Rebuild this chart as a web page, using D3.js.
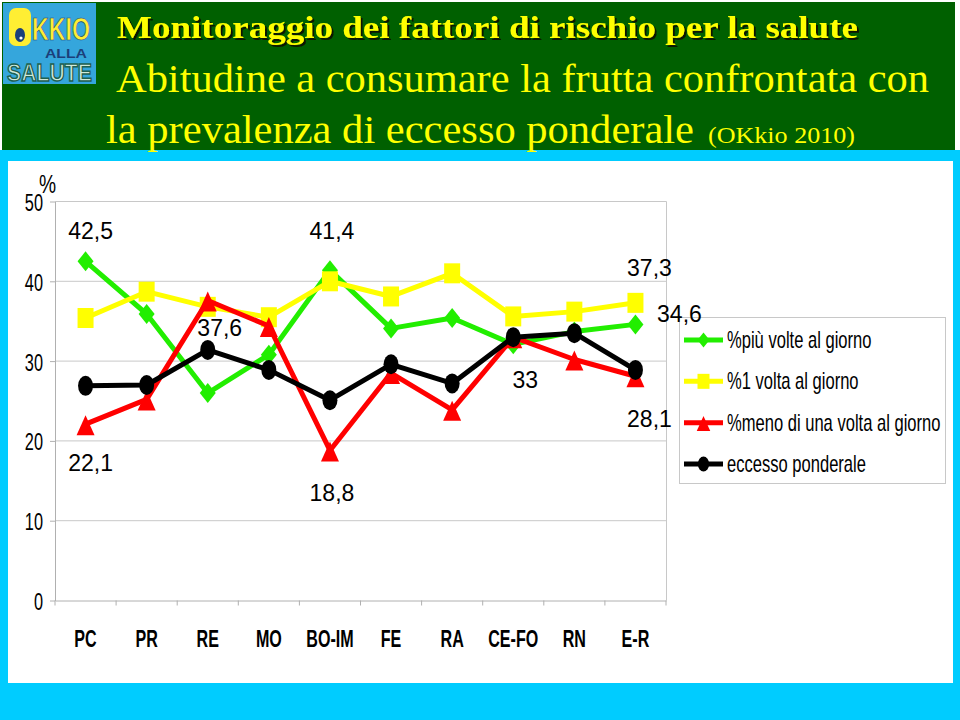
<!DOCTYPE html>
<html>
<head>
<meta charset="utf-8">
<script src="https://cdn.jsdelivr.net/npm/d3@7"></script>
<style>
  html, body { margin: 0; padding: 0; background: #ffffff; }
  svg { display: block; }
</style>
</head>
<body>
<svg id="chart" width="960" height="720"></svg>
<script>
// ---------------- DATA ----------------
const categories = ["PC", "PR", "RE", "MO", "BO-IM", "FE", "RA", "CE-FO", "RN", "E-R"];
const piuVolte   = [42.5, 35.9, 26.0, 30.8, 41.4, 34.1, 35.4, 32.1, 33.7, 34.6];
const unaVolta   = [35.4, 38.7, 36.8, 35.5, 40.0, 38.1, 41.0, 35.6, 36.2, 37.3];
const menoUna    = [22.1, 25.2, 37.6, 34.4, 18.8, 28.5, 23.9, 33.0, 30.2, 28.1];
const eccesso    = [26.9, 27.0, 31.4, 28.9, 25.1, 29.6, 27.2, 33.0, 33.5, 28.9];
const seriesNames = ["%più volte al giorno", "%1 volta al giorno", "%meno di una volta al giorno", "eccesso ponderale"];
const yTicks = [0, 10, 20, 30, 40, 50];
// labelled points: [series index, category index]
const labelledPoints = [[0, 0], [0, 4], [1, 9], [0, 9], [2, 9], [2, 2], [3, 7], [2, 0], [2, 4]];
const titleLine1 = "Monitoraggio dei fattori di rischio per la salute";
const titleLine2 = "Abitudine a consumare la frutta confrontata con";
const titleLine3 = "la prevalenza di eccesso ponderale";
const titleLine3b = "(OKkio 2010)";

// ---------------- STYLES / LAYOUT ----------------
const seriesValues = [piuVolte, unaVolta, menoUna, eccesso];
const seriesColors = ["#22ee00", "#ffff00", "#ff0000", "#000000"];
const seriesMarkers = ["diamond", "square", "triangle", "circle"];
// label offsets (px) relative to the labelled point: [dx, dy(baseline)]
const labelOffsets = [[5, -22], [2, -31], [14, -27], [44, -2], [14, 51], [12, 36], [12, 51], [5, 47], [2, 51]];

const svg = d3.select("#chart");
const SX = 0.74; // horizontal squeeze of the narrow sans text
const sans = "Liberation Sans, Arial, sans-serif";

const defs = svg.append("defs");
const f = defs.append("filter").attr("id", "shadow").attr("x", "-5%").attr("y", "-20%").attr("width", "110%").attr("height", "150%");
f.append("feDropShadow").attr("dx", 2).attr("dy", 2).attr("stdDeviation", 0.6).attr("flood-color", "#111100").attr("flood-opacity", 0.9);

// background panels
svg.append("rect").attr("x", 0).attr("y", 0).attr("width", 960).attr("height", 720).attr("fill", "#00ccff");
svg.append("rect").attr("x", 0).attr("y", 0).attr("width", 960).attr("height", 150).attr("fill", "#ffffff");
svg.append("rect").attr("x", 2).attr("y", 2).attr("width", 953).attr("height", 148).attr("fill", "#006000");
svg.append("rect").attr("x", 8).attr("y", 161).attr("width", 945).attr("height", 522).attr("fill", "#ffffff");

// logo (approximation)
const logo = svg.append("g");
logo.append("rect").attr("x", 3).attr("y", 3).attr("width", 93).attr("height", 81).attr("fill", "#35a6dc");
logo.append("rect").attr("x", 9).attr("y", 8).attr("width", 22).attr("height", 38).attr("rx", 7).attr("fill", "#ffee33");
logo.append("ellipse").attr("cx", 20).attr("cy", 35).attr("rx", 5).attr("ry", 7).attr("fill", "#1b3f7a");
logo.append("circle").attr("cx", 21).attr("cy", 38).attr("r", 1.6).attr("fill", "#ffffff");
logo.append("text").attr("x", 32).attr("y", 40).attr("font-family", sans)
  .attr("font-weight", "bold").attr("font-size", 32).attr("fill", "#ffee33").attr("stroke", "#1b3f7a").attr("stroke-width", 0.6)
  .attr("textLength", 58).attr("lengthAdjust", "spacingAndGlyphs").text("KKIO");
logo.append("text").attr("x", 45).attr("y", 58).attr("font-family", sans)
  .attr("font-weight", "bold").attr("font-size", 12).attr("fill", "#1b3f7a")
  .attr("textLength", 42).attr("lengthAdjust", "spacingAndGlyphs").text("ALLA");
logo.append("text").attr("x", 7).attr("y", 81).attr("font-family", sans)
  .attr("font-weight", "bold").attr("font-size", 23).attr("fill", "#cfeadb").attr("stroke", "#1f6050").attr("stroke-width", 1.4)
  .attr("textLength", 85).attr("lengthAdjust", "spacingAndGlyphs").text("SALUTE");

// titles
const serif = "Liberation Serif, 'Times New Roman', serif";
svg.append("text").attr("x", 117).attr("y", 38).attr("font-family", serif).attr("font-weight", "bold")
  .attr("font-size", 31).attr("fill", "#ffff00").attr("filter", "url(#shadow)")
  .attr("textLength", 741).attr("lengthAdjust", "spacingAndGlyphs").text(titleLine1);
svg.append("text").attr("x", 116).attr("y", 92).attr("font-family", serif)
  .attr("font-size", 41).attr("fill", "#ffff00").attr("textLength", 813).attr("lengthAdjust", "spacingAndGlyphs").text(titleLine2);
svg.append("text").attr("x", 106).attr("y", 143).attr("font-family", serif)
  .attr("font-size", 41).attr("fill", "#ffff00").attr("textLength", 588).attr("lengthAdjust", "spacingAndGlyphs").text(titleLine3);
svg.append("text").attr("x", 708).attr("y", 143).attr("font-family", serif)
  .attr("font-size", 24).attr("fill", "#ffff00").attr("textLength", 147).attr("lengthAdjust", "spacingAndGlyphs").text(titleLine3b);

// ---------------- SCALES ----------------
const x = d3.scaleBand().domain(categories).range([55, 666]);
const y = d3.scaleLinear().domain([0, 50]).range([600.5, 201.5]);
const cx = c => x(c) + x.bandwidth() / 2;

const plot = svg.append("g");
// gridlines
plot.selectAll("line.grid").data(yTicks.filter(t => t > 0)).join("line")
  .attr("x1", 55).attr("x2", 666.5).attr("y1", d => y(d)).attr("y2", d => y(d))
  .attr("stroke", "#c8c8c8").attr("stroke-width", 1);
// right border
plot.append("line").attr("x1", 666.5).attr("x2", 666.5).attr("y1", y(50)).attr("y2", y(0))
  .attr("stroke", "#c8c8c8").attr("stroke-width", 1);

// y axis
const yAxis = plot.append("g").attr("transform", "translate(55,0)")
  .call(d3.axisLeft(y).tickValues(yTicks).tickSize(5).tickSizeOuter(0));
yAxis.select(".domain").attr("stroke", "#b0b0b0");
yAxis.selectAll(".tick line").attr("stroke", "#b0b0b0");
yAxis.selectAll(".tick text")
  .attr("x", 0).attr("dy", null).attr("y", 0)
  .attr("transform", "translate(-12,9) scale(0.68,1)")
  .attr("font-family", sans).attr("font-size", 24).attr("fill", "#000")
  .attr("text-anchor", "end");
svg.append("text").attr("transform", "translate(39,193) scale(0.74,1)")
  .attr("font-family", sans).attr("font-size", 26).attr("fill", "#000").text("%");

// x axis
const xAxis = plot.append("g").attr("transform", "translate(0," + y(0) + ")")
  .call(d3.axisBottom(x).tickSize(0).tickSizeOuter(0));
xAxis.select(".domain").attr("stroke", "#b0b0b0");
xAxis.selectAll(".tick text")
  .attr("y", 0).attr("dy", null)
  .attr("transform", "translate(0,46) scale(0.7,1)")
  .attr("font-family", sans).attr("font-weight", "bold")
  .attr("font-size", 23).attr("fill", "#000");
const bounds = categories.map(c => x(c)).concat([x(categories[categories.length - 1]) + x.bandwidth()]);
plot.selectAll("line.xt").data(bounds).join("line")
  .attr("x1", d => d).attr("x2", d => d).attr("y1", y(0)).attr("y2", y(0) + 5)
  .attr("stroke", "#b0b0b0");

// ---------------- MARKERS ----------------
function markerPath(type, s) {
  if (type === "diamond") { const w = 8 * s, h = 10 * s; return `M0,${-h}L${w},0L0,${h}L${-w},0Z`; }
  if (type === "square") { const w = 8 * s, h = 10 * s; return `M${-w},${-h}H${w}V${h}H${-w}Z`; }
  if (type === "triangle") { const w = 9 * s; return `M0,${-9 * s}L${w},${11 * s}L${-w},${11 * s}Z`; }
  const rx = 7.5 * s, ry = 10 * s;
  return `M${-rx},0A${rx},${ry} 0 1,0 ${rx},0A${rx},${ry} 0 1,0 ${-rx},0Z`;
}

const line = d3.line().x((d, i) => cx(categories[i])).y(d => y(d));
seriesValues.forEach((vals, si) => {
  const g = plot.append("g");
  g.append("path").datum(vals).attr("d", line).attr("fill", "none")
    .attr("stroke", seriesColors[si]).attr("stroke-width", 5).attr("stroke-linejoin", "round");
  g.selectAll("path.m").data(vals).join("path").attr("class", "m")
    .attr("transform", (d, i) => `translate(${cx(categories[i])},${y(d)})`)
    .attr("d", markerPath(seriesMarkers[si], 1)).attr("fill", seriesColors[si]);
});

// ---------------- LEGEND ----------------
const legend = svg.append("g");
legend.append("rect").attr("x", 679.5).attr("y", 317.5).attr("width", 266).attr("height", 166)
  .attr("fill", "#ffffff").attr("stroke", "#c8c8c8");
const rowY = d3.scalePoint().domain(seriesNames).range([340, 464]);
seriesNames.forEach((name, si) => {
  const ly = rowY(name);
  legend.append("line").attr("x1", 684).attr("x2", 723).attr("y1", ly).attr("y2", ly)
    .attr("stroke", seriesColors[si]).attr("stroke-width", 5);
  legend.append("path").attr("transform", `translate(703.5,${ly})`)
    .attr("d", markerPath(seriesMarkers[si], 0.75)).attr("fill", seriesColors[si]);
  legend.append("text").attr("transform", `translate(727,${ly + 8}) scale(0.72,1)`)
    .attr("font-family", sans).attr("font-size", 23).attr("fill", "#000")
    .text(name);
});

// data labels (drawn last, on top of the legend frame)
const fmt = v => String(v).replace(".", ",");
labelledPoints.forEach(([si, ci], k) => {
  const v = seriesValues[si][ci];
  svg.append("text")
    .attr("x", cx(categories[ci]) + labelOffsets[k][0])
    .attr("y", y(v) + labelOffsets[k][1])
    .attr("text-anchor", "middle")
    .attr("font-family", sans).attr("font-size", 23).attr("fill", "#000")
    .text(fmt(v));
});
</script>
</body>
</html>
